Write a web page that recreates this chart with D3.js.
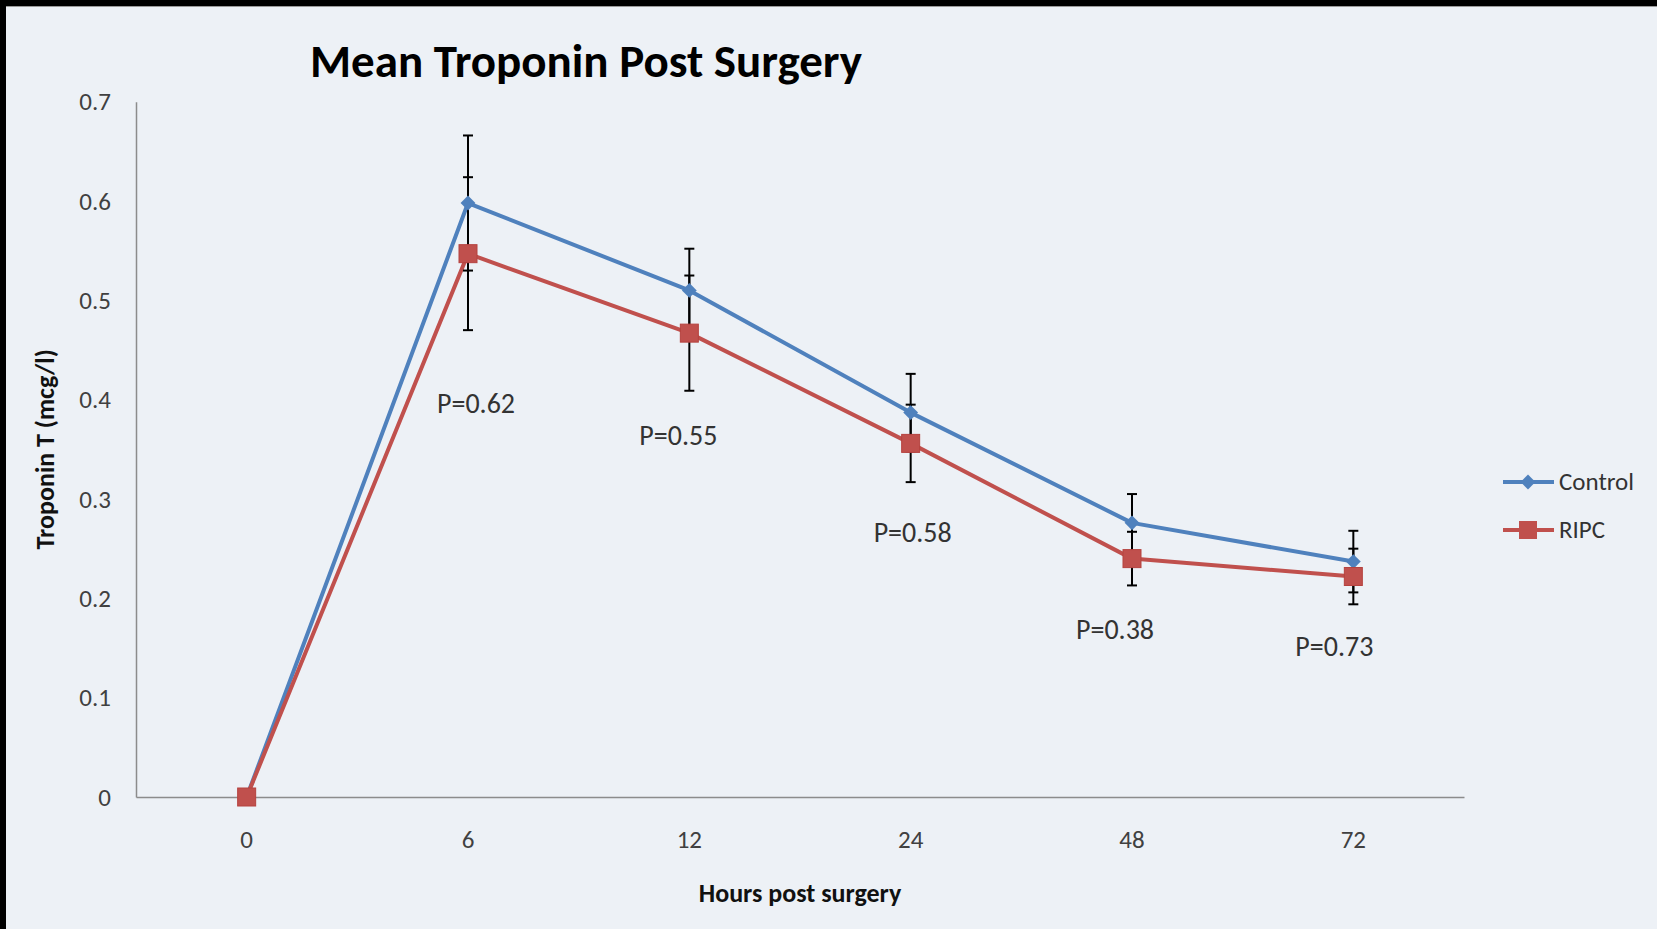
<!DOCTYPE html>
<html>
<head>
<meta charset="utf-8">
<script src="https://cdn.jsdelivr.net/npm/d3@7"></script>
<style>
  html, body { margin: 0; padding: 0; background: #000; }
  svg { display: block; }
</style>
</head>
<body>
<script>
// ---- data ----
const categories = ["0", "6", "12", "24", "48", "72"];
const controlValues = [0, 0.598, 0.510, 0.387, 0.276, 0.237];
const controlErrors = [0, 0.068, 0.042, 0.039, 0.029, 0.031];
const ripcValues = [0, 0.547, 0.467, 0.356, 0.240, 0.222];
const ripcErrors = [0, 0.077, 0.058, 0.039, 0.027, 0.028];
const pLabels = ["P=0.62", "P=0.55", "P=0.58", "P=0.38", "P=0.73"];
const pLabelCats = ["6", "12", "24", "48", "72"];
const pLabelY = [0.396, 0.363, 0.266, 0.168, 0.151];
const pLabelDx = [8, -11, 2, -17, -19];
const yTicks = [0, 0.1, 0.2, 0.3, 0.4, 0.5, 0.6, 0.7];
const seriesNames = ["Control", "RIPC"];

const W = 1657, H = 929;
const blue = "#4F81BD", red = "#C0504D";
const margin = { left: 136, right: 1464, top: 101.7, bottom: 797 };

const svg = d3.select("body").append("svg").attr("width", W).attr("height", H);
// black frame (top & left)
svg.append("rect").attr("x", 0).attr("y", 0).attr("width", W).attr("height", H).attr("fill", "#000");
svg.append("rect").attr("x", 6).attr("y", 6).attr("width", W - 6).attr("height", H - 6).attr("fill", "#EDF1F6");
svg.append("line").attr("x1", 6).attr("x2", W).attr("y1", 6.5).attr("y2", 6.5).attr("stroke", "#9a9a9a").attr("stroke-width", 1);

const x = d3.scaleBand().domain(categories).range([margin.left, margin.right]).padding(0);
const cx = c => x(c) + x.bandwidth() / 2;
const y = d3.scaleLinear().domain([0, 0.7]).range([margin.bottom, margin.top]);

const fontMain = "Calibri, Carlito, 'Open Sans', 'Noto Sans', sans-serif";

// axes
const yAxis = svg.append("g").attr("transform", `translate(${margin.left},0)`)
  .call(d3.axisLeft(y).tickValues(yTicks).tickSize(0).tickPadding(25)
    .tickFormat(d => d === 0 ? "0" : d3.format(".1f")(d)));
yAxis.select(".domain").attr("stroke", "#8c8c8c").attr("stroke-width", 1.5);
yAxis.selectAll("text").attr("font-family", fontMain).attr("font-size", 25).attr("fill", "#404040");

const xAxis = svg.append("g").attr("transform", `translate(0,${margin.bottom})`)
  .call(d3.axisBottom(x).tickSize(0).tickPadding(33));
xAxis.select(".domain").attr("stroke", "#8c8c8c").attr("stroke-width", 1.5);
xAxis.selectAll("text").attr("font-family", fontMain).attr("font-size", 25).attr("fill", "#404040");

// titles
svg.append("text").attr("x", 586).attr("y", 77).attr("text-anchor", "middle")
  .attr("font-family", fontMain).attr("font-weight", "bold").attr("font-size", 47).attr("fill", "#000")
  .text("Mean Troponin Post Surgery");
svg.append("text").attr("x", (margin.left + margin.right) / 2).attr("y", 902).attr("text-anchor", "middle")
  .attr("font-family", fontMain).attr("font-weight", "bold").attr("font-size", 26).attr("fill", "#111")
  .text("Hours post surgery");
svg.append("text").attr("transform", `translate(54,${(margin.top + margin.bottom) / 2}) rotate(-90)`)
  .attr("text-anchor", "middle").attr("font-family", fontMain).attr("font-weight", "bold")
  .attr("font-size", 26).attr("fill", "#111").text("Troponin T (mcg/l)");

// lines
const line = d3.line().x((d, i) => cx(categories[i])).y(d => y(d));
svg.append("path").datum(controlValues).attr("d", line).attr("fill", "none")
  .attr("stroke", blue).attr("stroke-width", 4).attr("stroke-linejoin", "round");
svg.append("path").datum(ripcValues).attr("d", line).attr("fill", "none")
  .attr("stroke", red).attr("stroke-width", 4).attr("stroke-linejoin", "round");

// error bars
function errorBars(vals, errs) {
  const g = svg.append("g").attr("stroke", "#000").attr("stroke-width", 2);
  vals.forEach((v, i) => {
    if (errs[i] <= 0) return;
    const X = cx(categories[i]);
    g.append("line").attr("x1", X).attr("x2", X).attr("y1", y(v - errs[i])).attr("y2", y(v + errs[i]));
    [v - errs[i], v + errs[i]].forEach(e => {
      g.append("line").attr("x1", X - 5).attr("x2", X + 5).attr("y1", y(e)).attr("y2", y(e));
    });
  });
}
errorBars(controlValues, controlErrors);
errorBars(ripcValues, ripcErrors);

// markers
const diamond = d3.symbol().type(d3.symbolDiamond2).size(140);
svg.append("g").selectAll("path").data(controlValues).join("path")
  .attr("d", diamond)
  .attr("transform", (d, i) => `translate(${cx(categories[i])},${y(d)})`)
  .attr("fill", blue);
svg.append("g").selectAll("rect").data(ripcValues).join("rect")
  .attr("x", (d, i) => cx(categories[i]) - 9).attr("y", d => y(d) - 9)
  .attr("width", 18).attr("height", 18)
  .attr("fill", red).attr("stroke", "#b5423f").attr("stroke-width", 1);

// P labels
svg.append("g").selectAll("text").data(pLabels).join("text")
  .attr("x", (d, i) => cx(pLabelCats[i]) + pLabelDx[i])
  .attr("y", (d, i) => y(pLabelY[i]) + 9)
  .attr("text-anchor", "middle")
  .attr("font-family", fontMain).attr("font-size", 28).attr("fill", "#333")
  .text(d => d);

// legend
const legendY = [482, 530];
seriesNames.forEach((name, i) => {
  const g = svg.append("g");
  const col = i === 0 ? blue : red;
  g.append("line").attr("x1", 1503).attr("x2", 1554).attr("y1", legendY[i]).attr("y2", legendY[i])
    .attr("stroke", col).attr("stroke-width", 4);
  if (i === 0) {
    g.append("path").attr("d", diamond).attr("transform", `translate(1528,${legendY[i]})`).attr("fill", blue);
  } else {
    g.append("rect").attr("x", 1519).attr("y", legendY[i] - 9).attr("width", 18).attr("height", 18).attr("fill", red);
  }
  g.append("text").attr("x", 1559).attr("y", legendY[i] + 8).attr("font-family", fontMain)
    .attr("font-size", 25).attr("fill", "#333").text(name);
});
</script>
</body>
</html>
